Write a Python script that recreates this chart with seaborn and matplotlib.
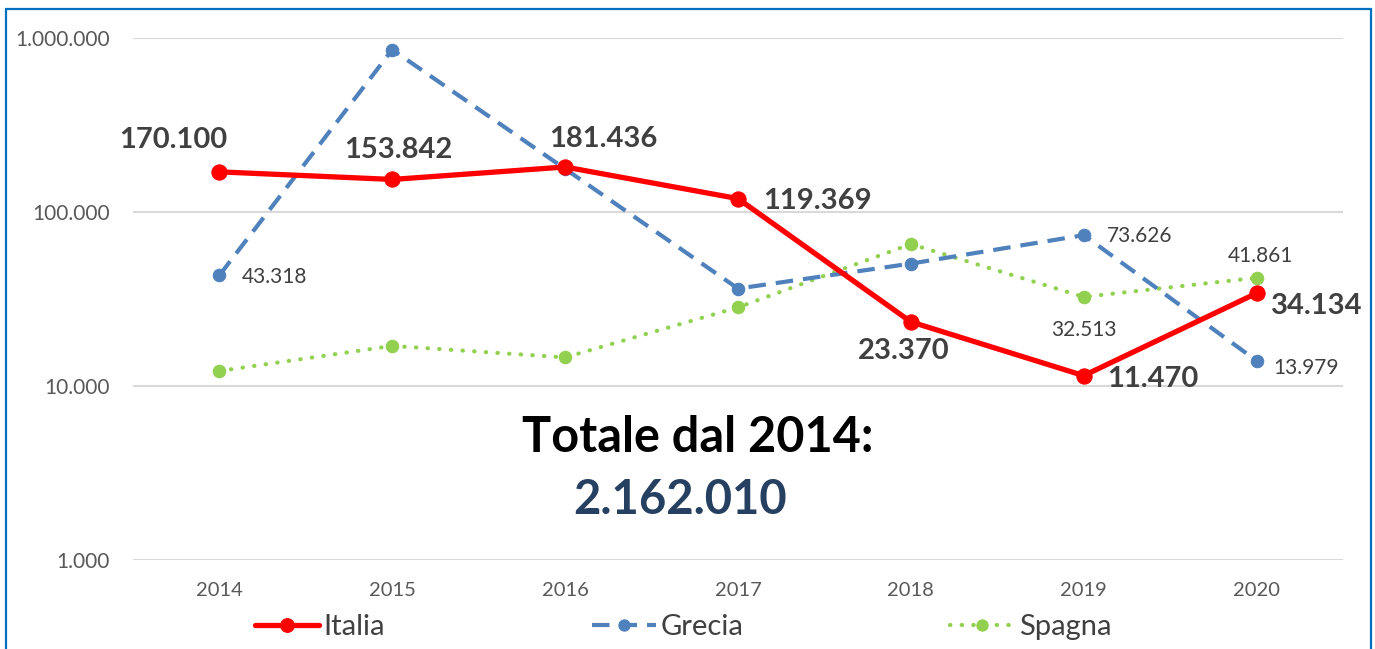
import pandas as pd
import seaborn as sns
import matplotlib.pyplot as plt
from matplotlib.ticker import FuncFormatter, NullLocator
from matplotlib.patches import Rectangle

# Data
years = [2014, 2015, 2016, 2017, 2018, 2019, 2020]
italia = [170100, 153842, 181436, 119369, 23370, 11470, 34134]
grecia = [43318, 856723, 176906, 36310, 50508, 73626, 13979]
spagna = [12200, 17000, 14600, 28300, 65400, 32513, 41861]

y_ticks = [1000, 10000, 100000, 1000000]
totale_title = "Totale dal 2014:"
totale_value = "2.162.010"


def fmt_it(v):
    return f"{int(round(v)):,}".replace(",", ".")


sns.set_theme(style="white")
plt.rcParams['font.family'] = ['Lato', 'DejaVu Sans']

fig = plt.figure(figsize=(13.75, 6.49), dpi=100)
ax = fig.add_axes([133 / 1375, 1 - 560 / 649, 1210 / 1375, 522 / 649])

df = pd.DataFrame({"anno": years, "Italia": italia, "Grecia": grecia, "Spagna": spagna})

red = "#FF0000"
blue = "#4F81BD"
green = "#92D050"

sns.lineplot(data=df, x="anno", y="Italia", ax=ax, color=red, linewidth=3.8,
             marker="o", markersize=11, markeredgecolor=red, label="Italia",
             zorder=5)
sns.lineplot(data=df, x="anno", y="Grecia", ax=ax, color=blue, linewidth=3.0,
             linestyle=(0, (4.2, 2.4)), marker="o", markersize=9,
             markeredgecolor=blue, label="Grecia", zorder=4)
sns.lineplot(data=df, x="anno", y="Spagna", ax=ax, color=green, linewidth=3.0,
             linestyle=(0, (0.1, 2.7)), dash_capstyle="round", marker="o",
             markersize=9, markeredgecolor=green, label="Spagna", zorder=3)

ax.set_yscale("log")
ax.set_ylim(1000, 1000000)
ax.set_xlim(years[0] - 0.5, years[-1] + 0.5)
ax.set_yticks(y_ticks)
ax.yaxis.set_major_formatter(FuncFormatter(lambda v, p: fmt_it(v)))
ax.yaxis.set_minor_locator(NullLocator())
ax.set_xticks(years)
ax.set_xticklabels([str(y) for y in years])
ax.tick_params(axis="both", length=0, labelcolor="#595959")
ax.tick_params(axis="y", pad=16.5, labelsize=15)
ax.tick_params(axis="x", pad=16, labelsize=14.5)
ax.grid(axis="y", color="#D9D9D9", linewidth=1.5)
ax.grid(axis="x", visible=False)
for s in ax.spines.values():
    s.set_visible(False)
ax.set_xlabel("")
ax.set_ylabel("")

# Data labels
lab_col = "#404040"
ita_off = [(-46, 32, "center"), (6, 29, "center"), (38, 28, "center"),
           (25, -2, "left"), (-7, -29, "center"), (23, -3, "left"),
           (14, -13, "left")]
for x, y, (dx, dy, ha) in zip(years, italia, ita_off):
    ax.annotate(fmt_it(y), (x, y), xytext=(dx, dy), textcoords="offset pixels",
                ha=ha, va="center", fontsize=21, fontweight="bold", color=lab_col)

gre_off = {0: (22, -2), 5: (23, -1), 6: (17, -7)}
for i, (dx, dy) in gre_off.items():
    ax.annotate(fmt_it(grecia[i]), (years[i], grecia[i]), xytext=(dx, dy),
                textcoords="offset pixels", ha="left", va="center",
                fontsize=15, color=lab_col)

spa_off = {5: (0, -33), 6: (4, 22)}
for i, (dx, dy) in spa_off.items():
    ax.annotate(fmt_it(spagna[i]), (years[i], spagna[i]), xytext=(dx, dy),
                textcoords="offset pixels", ha="center", va="center",
                fontsize=15, color=lab_col)

# Totale
fig.text(698 / 1375, 1 - 438 / 649, totale_title, ha="center", va="center",
         fontsize=35, fontweight="bold", color="black")
fig.text(680 / 1375, 1 - 500 / 649, totale_value, ha="center", va="center",
         fontsize=34, fontweight="bold", color="#254061")

# Legend
handles, labels = ax.get_legend_handles_labels()
ax.get_legend().remove()
fig.legend(handles, labels, loc="center", bbox_to_anchor=(683 / 1375, 1 - 627 / 649),
           ncol=3, frameon=False, fontsize=21, handlelength=2.2,
           handletextpad=0.15, columnspacing=7.1, markerscale=0.9,
           labelcolor="#404040")

# Chart border
fig.patches.append(Rectangle((6 / 1375, -0.05), 1365 / 1375, (640 / 649) + 0.05,
                             transform=fig.transFigure, fill=False,
                             edgecolor="#0070C0", linewidth=1.6))

fig.savefig("out.png", dpi=100)
